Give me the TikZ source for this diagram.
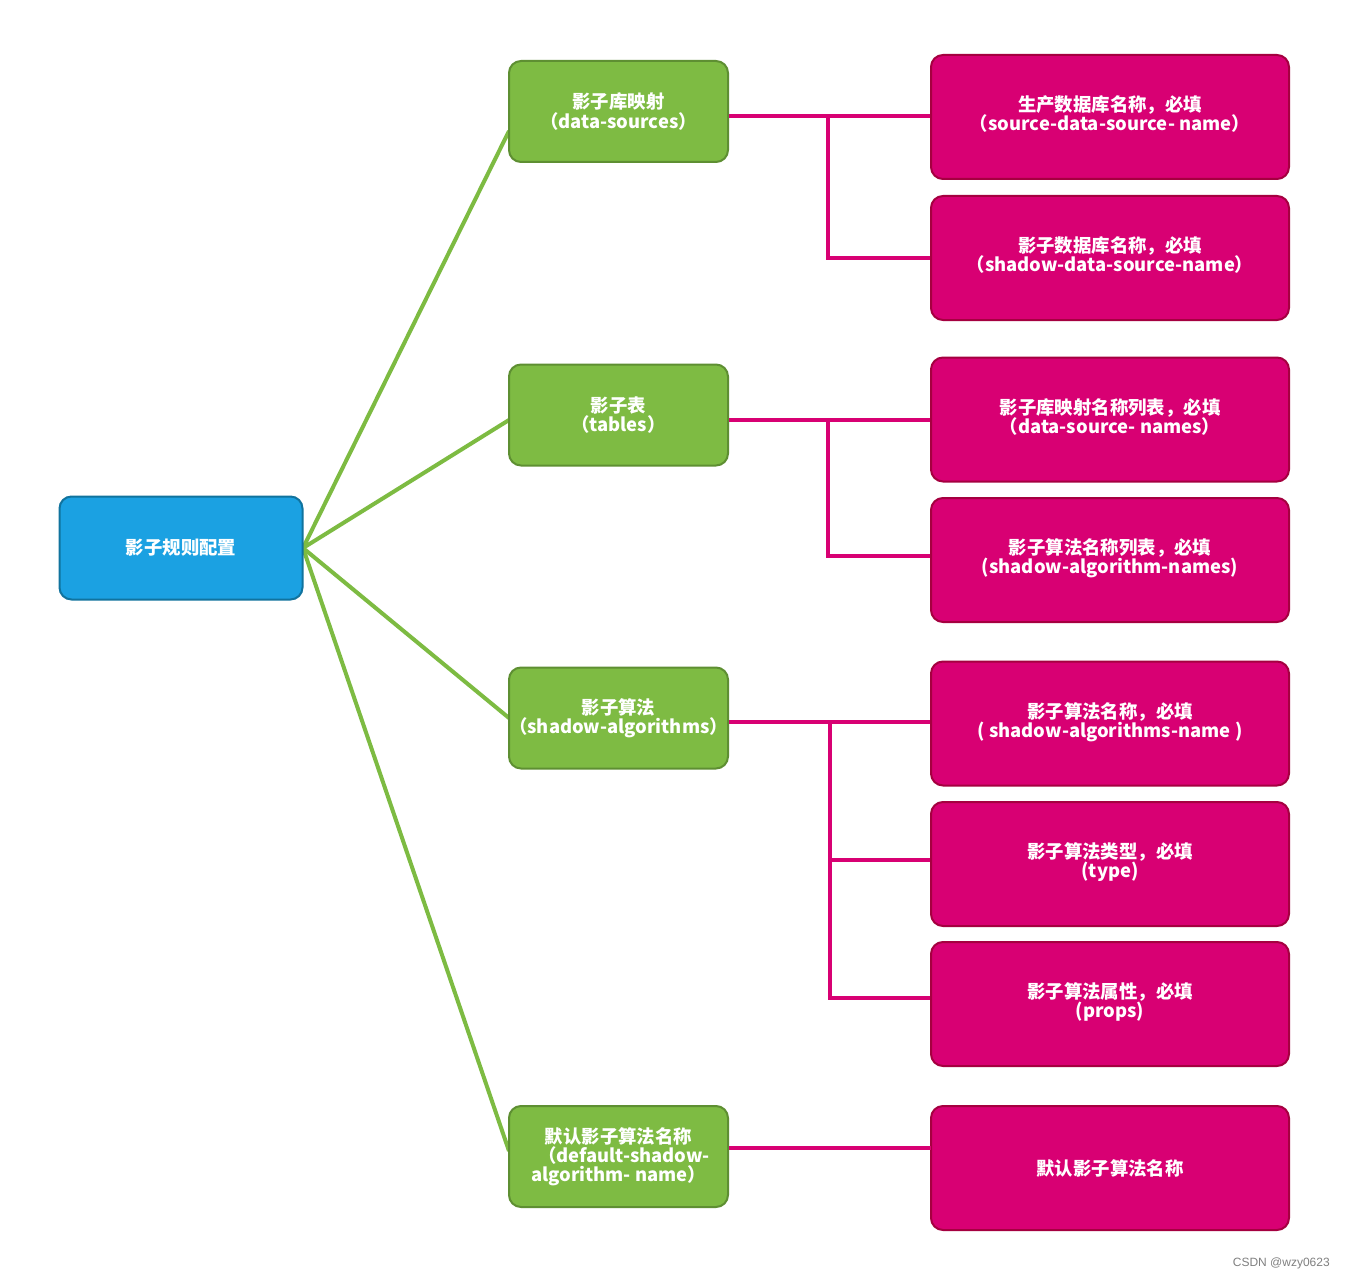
\documentclass[tikz,border=0pt]{standalone}
\usepackage{fontspec}
\newfontfamily\cjk{Noto Sans CJK SC}
\newfontfamily\wmfont{Liberation Sans}
\usetikzlibrary{calc}
\definecolor{bluefill}{HTML}{1BA1E2}
\definecolor{blueline}{HTML}{10739E}
\definecolor{greenfill}{HTML}{7EBB43}
\definecolor{greenline}{HTML}{5E8F32}
\definecolor{greenconn}{HTML}{7DBB42}
\definecolor{magfill}{HTML}{D80073}
\definecolor{magline}{HTML}{A50040}
\begin{document}
\begin{tikzpicture}[x=0.75pt,y=-0.75pt,
  base/.style={rectangle,rounded corners=9pt,line width=1.5pt,text=white,align=center,
    font=\cjk\bfseries\fontsize{13.8}{14.3}\selectfont,inner xsep=0pt,inner ysep=2pt},
  rootbox/.style={base,fill=bluefill,draw=blueline,minimum width=182.25pt,minimum height=77.25pt},
  greenbox/.style={base,fill=greenfill,draw=greenline,minimum width=164.25pt,minimum height=75.75pt},
  magbox/.style={base,fill=magfill,draw=magline,minimum width=268.5pt,minimum height=93pt},
  gconn/.style={draw=greenconn,line width=3pt},
  mconn/.style={draw=magfill,line width=3pt}]
\useasboundingbox (0,0) rectangle (1345,1280);
\fill[white] (0,0) rectangle (1345,1280);

% anchor points for connectors
\coordinate (r1) at (303,548);
\coordinate (e1) at (509,131);
\coordinate (e2) at (509,420);
\coordinate (e3) at (509,718);
\coordinate (e4) at (509,1151);
\coordinate (b1) at (828,116);
\coordinate (b2) at (828,420);
\coordinate (b3) at (830,722);
\coordinate (l4) at (931,1148);

% green connectors
\foreach \e in {e1,e2,e3,e4} \draw[gconn] (r1) -- (\e);

% nodes
\node[rootbox] (root) at (181,548) {影子规则配置};

\node[greenbox] (g1) at (618.5,111.5) {影子库映射\\（data-sources）};
\node[greenbox] (g2) at (618.5,415) {影子表\\（tables）};
\node[greenbox] (g3) at (618.5,718) {影子算法\\（shadow-algorithms）};
\node[greenbox] (g4) at (618.5,1156.5) {默认影子算法名称\\\phantom{x}（default-shadow-\\algorithm- name）};

\node[magbox] (m1) at (1110,117) {生产数据库名称，必填\\（source-data-source- name）\\[-9pt]};
\node[magbox] (m2) at (1110,258) {影子数据库名称，必填\\（shadow-data-source-name）\\[-9pt]};
\node[magbox] (m3) at (1110,419.5) {影子库映射名称列表，必填\\（data-source- names）\\[-9pt]};
\node[magbox] (m4) at (1110,560) {影子算法名称列表，必填\\(shadow-algorithm-names)\\[-9pt]};
\node[magbox] (m5) at (1110,723.5) {影子算法名称，必填\\( shadow-algorithms-name )\\[-9pt]};
\node[magbox] (m6) at (1110,864) {影子算法类型，必填\\(type)\\[-9pt]};
\node[magbox] (m7) at (1110,1004) {影子算法属性，必填\\(props)\\[-9pt]};
\node[magbox] (m8) at (1110,1168) {默认影子算法名称};

% magenta connectors
\draw[mconn] (g1.east |- b1) -- (m1.west |- b1);
\draw[mconn] (b1) -- (b1 |- m2.west) -- (m2.west);
\draw[mconn] (g2.east |- b2) -- (m3.west |- b2);
\draw[mconn] (b2) -- (b2 |- 0,556) -- (m4.west |- 0,556);
\draw[mconn] (g3.east |- b3) -- (m5.west |- b3);
\draw[mconn] (b3) -- (b3 |- 0,998) -- (m7.west |- 0,998);
\draw[mconn] (b3 |- 0,860) -- (m6.west |- 0,860);
\draw[mconn] (g4.east |- l4) -- (l4);

\node[anchor=east,text=gray,font=\wmfont\fontsize{9}{10}\selectfont,inner sep=0pt] (wm) at (1330,1263) {CSDN @wzy0623};
\end{tikzpicture}
\end{document}
